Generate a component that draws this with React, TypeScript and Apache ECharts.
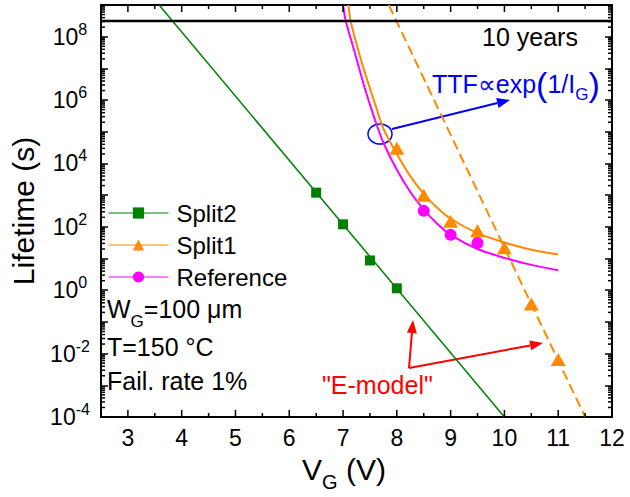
import React, { useEffect, useRef } from 'react';
import * as echarts from 'echarts';

// ---- data (lifetime in seconds vs gate voltage in V) ----
const split2V = [6.5, 7, 7.5, 8];
const split2Life = [1.2e3, 1.2e2, 8.7, 1.15];
const split1V = [8, 8.5, 9, 9.5, 10, 10.5, 11];
const split1Life = [3.0e4, 1.0e3, 1.5e2, 75, 22, 0.37, 0.0065];
const refV = [8.5, 9, 9.5];
const refLife = [320, 56, 31];

const split2FitV = [3.58, 10.0];
const split2FitLife = [1e9, 1e-4];
const eModelFitV = [7.85, 11.5];
const eModelFitLife = [1e9, 1e-4];
const split1FitV = [7.1, 7.14, 7.25, 7.4, 7.6, 7.75, 8.0, 8.25, 8.5, 8.75, 9.0, 9.5, 10, 10.5, 11];
const split1FitLife = [1e9, 3.2e8, 6e7, 7.9e6, 7.1e5, 1.26e5, 2.0e4, 4.0e3, 1.1e3, 4.0e2, 1.8e2, 63, 32, 19, 13.5];
const refFitV = [7.0, 7.05, 7.2, 7.4, 7.6, 7.75, 8.0, 8.25, 8.5, 8.75, 9.0, 9.5, 10, 10.5, 11];
const refFitLife = [1e9, 3.2e8, 4e7, 2.5e6, 2.2e5, 4.5e4, 6.3e3, 1.26e3, 3.5e2, 1.26e2, 56, 20, 10.5, 6.3, 4.3];
const tenYearsLife = 3.15e8;

const xMin = 2.5;
const xMax = 12;
const yExpMin = -4;
const yExpMax = 9;

const GREEN = '#008000';
const ORANGE = '#ff8a00';
const PINK = '#ff00ff';
const FONT = '"Liberation Sans", Arial, Helvetica, sans-serif';

const toPts = (xs: number[], ys: number[]) => xs.map((x, i) => [x, Math.log10(ys[i])]);

// tick positions (axis decoration)
const tickData: number[][] = [];
for (let v = xMin + 0.5; v < xMax; v += 0.5) tickData.push([v, 0, Number.isInteger(v) ? 0 : 1]);
for (let d = yExpMin; d < yExpMax; d++) {
  for (let k = 2; k <= 9; k++) tickData.push([xMin, d + Math.log10(k), 2]);
}

function buildOption(): any {
  return {
    animation: false,
    backgroundColor: '#fff',
    textStyle: { fontFamily: FONT },
    grid: { left: 97, right: 18, top: 5, bottom: 76, containLabel: false },
    legend: {
      orient: 'vertical',
      left: 103,
      top: 196,
      itemWidth: 60,
      itemHeight: 14,
      itemGap: 8,
      textStyle: { fontSize: 24, fontFamily: FONT, color: '#000', padding: [0, 0, 0, 3] },
      data: [
        { name: 'Split2', lineStyle: { opacity: 1, width: 1, color: GREEN } },
        { name: 'Split1', lineStyle: { opacity: 1, width: 1, color: ORANGE } },
        { name: 'Reference', lineStyle: { opacity: 1, width: 1, color: PINK } },
      ],
    },
    xAxis: [
      {
        type: 'value',
        position: 'bottom',
        min: xMin,
        max: xMax,
        interval: 0.5,
        name: '{v|V}{g|G}{v| (V)}',
        nameLocation: 'middle',
        nameGap: 30,
        nameTextStyle: {
          color: '#000',
          padding: [0, 25, 0, 0],
          rich: {
            v: { fontSize: 30, fontFamily: FONT, color: '#000' },
            g: { fontSize: 20, fontFamily: FONT, color: '#000', verticalAlign: 'bottom', padding: [25, 0, 0, 0] },
          },
        },
        axisLine: { show: true, onZero: false, lineStyle: { color: '#000', width: 2 } },
        axisTick: { show: false },
        splitLine: { show: false },
        axisLabel: {
          fontSize: 23,
          fontFamily: FONT,
          color: '#000',
          margin: 9,
          formatter: (v: number) => (Number.isInteger(v) && v > xMin ? String(v) : ''),
        },
      },
      {
        type: 'value',
        position: 'top',
        min: xMin,
        max: xMax,
        interval: 0.5,
        axisLine: { show: true, onZero: false, lineStyle: { color: '#000', width: 2 } },
        axisTick: { show: false },
        axisLabel: { show: false },
        splitLine: { show: false },
      },
    ],
    yAxis: [
      {
        type: 'value',
        position: 'left',
        min: yExpMin,
        max: yExpMax,
        interval: 1,
        name: 'Lifetime (s)',
        nameLocation: 'middle',
        nameGap: 63,
        nameTextStyle: { fontSize: 30, fontFamily: FONT, color: '#000' },
        axisLine: { show: true, onZero: false, lineStyle: { color: '#000', width: 2 } },
        axisTick: { show: true, inside: true, length: 7, lineStyle: { color: '#000', width: 1.5 } },
        splitLine: { show: false },
        axisLabel: {
          align: 'center',
          margin: 31,
          color: '#000',
          formatter: (v: number) => {
            const e = Math.round(v);
            return e % 2 === 0 && e < yExpMax ? `{b|10}{e|${e}}` : '';
          },
          rich: {
            b: { fontSize: 23, fontFamily: FONT, color: '#000' },
            e: { fontSize: 16, fontFamily: FONT, color: '#000', verticalAlign: 'top', padding: [0, 0, 15, 0] },
          },
        },
      },
      {
        type: 'value',
        position: 'right',
        min: yExpMin,
        max: yExpMax,
        interval: 1,
        axisLine: { show: true, onZero: false, lineStyle: { color: '#000', width: 2 } },
        axisTick: { show: true, inside: true, length: 7, lineStyle: { color: '#000', width: 1.5 } },
        axisLabel: { show: false },
        splitLine: { show: false },
      },
    ],
    series: [
      {
        name: 'Split2 fit',
        type: 'line',
        data: toPts(split2FitV, split2FitLife),
        showSymbol: false,
        symbol: 'none',
        lineStyle: { color: GREEN, width: 1.5 },
        silent: true,
        z: 2,
      },
      {
        name: 'E-model fit',
        type: 'line',
        data: toPts(eModelFitV, eModelFitLife),
        showSymbol: false,
        symbol: 'none',
        lineStyle: { color: ORANGE, width: 2, type: [10, 5] },
        silent: true,
        z: 2,
      },
      {
        name: 'Split1 fit',
        type: 'line',
        data: toPts(split1FitV, split1FitLife),
        showSymbol: false,
        symbol: 'none',
        smooth: 0.3,
        lineStyle: { color: ORANGE, width: 2 },
        silent: true,
        z: 2,
      },
      {
        name: 'Reference fit',
        type: 'line',
        data: toPts(refFitV, refFitLife),
        showSymbol: false,
        symbol: 'none',
        smooth: 0.3,
        lineStyle: { color: PINK, width: 2 },
        silent: true,
        z: 2,
      },
      {
        name: '10 years',
        type: 'line',
        data: toPts([xMin, xMax], [tenYearsLife, tenYearsLife]),
        showSymbol: false,
        symbol: 'none',
        lineStyle: { color: '#000', width: 2.5 },
        silent: true,
        z: 3,
      },
      {
        name: 'Split2',
        type: 'line',
        data: toPts(split2V, split2Life),
        symbol: 'rect',
        symbolSize: 10,
        showSymbol: true,
        itemStyle: { color: GREEN },
        lineStyle: { color: GREEN, opacity: 0 },
        z: 5,
      },
      {
        name: 'Split1',
        type: 'line',
        data: toPts(split1V, split1Life),
        symbol: 'triangle',
        symbolSize: [15, 13],
        showSymbol: true,
        itemStyle: { color: ORANGE },
        lineStyle: { color: ORANGE, opacity: 0 },
        z: 5,
      },
      {
        name: 'Reference',
        type: 'line',
        data: toPts(refV, refLife),
        symbol: 'circle',
        symbolSize: 12,
        showSymbol: true,
        itemStyle: { color: PINK },
        lineStyle: { color: PINK, opacity: 0 },
        z: 5,
      },
      {
        name: 'ticks',
        type: 'custom',
        silent: true,
        clip: false,
        z: 10,
        data: tickData,
        renderItem: (params: any, api: any) => {
          const cs = params.coordSys;
          const kind = api.value(2);
          const style = { stroke: '#000', lineWidth: 1.5 };
          if (kind < 2) {
            const x = api.coord([api.value(0), 0])[0];
            const len = kind === 0 ? 7 : 4;
            const yb = cs.y + cs.height;
            const yt = cs.y;
            return {
              type: 'group',
              children: [
                { type: 'line', shape: { x1: x, y1: yb, x2: x, y2: yb - len }, style },
                { type: 'line', shape: { x1: x, y1: yt, x2: x, y2: yt + len }, style },
              ],
            };
          }
          const y = api.coord([xMin, api.value(1)])[1];
          const xl = cs.x;
          const xr = cs.x + cs.width;
          return {
            type: 'group',
            children: [
              { type: 'line', shape: { x1: xl, y1: y, x2: xl + 4, y2: y }, style },
              { type: 'line', shape: { x1: xr, y1: y, x2: xr - 4, y2: y }, style },
            ],
          };
        },
      },
    ],
    graphic: [
      {
        type: 'text',
        x: 482,
        y: 36.5,
        style: { text: '10 years', fontSize: 25, fontFamily: FONT, fill: '#000', verticalAlign: 'middle', textVerticalAlign: 'middle' },
      },
      {
        type: 'text',
        x: 432,
        y: 83.5,
        style: {
          text: '{a|TTF}{p|∝}{a|exp}{b|(}{a|1/I}{s|G}{b|)}',
          fill: '#0000ff',
          verticalAlign: 'middle',
          textVerticalAlign: 'middle',
          rich: {
            a: { fontSize: 25, fontFamily: FONT, fill: '#0000ff' },
            p: { fontSize: 25, fontFamily: FONT, fill: '#0000ff' },
            b: { fontSize: 34, fontFamily: FONT, fill: '#0000ff' },
            s: { fontSize: 17, fontFamily: FONT, fill: '#0000ff', verticalAlign: 'bottom', padding: [21, 0, 0, 0] },
          },
        },
      },
      {
        type: 'ellipse',
        shape: { cx: 380, cy: 134, rx: 12, ry: 10 },
        style: { fill: 'none', stroke: '#0000ff', lineWidth: 1.5 },
      },
      {
        type: 'line',
        shape: { x1: 392, y1: 129, x2: 497.4, y2: 103 },
        style: { stroke: '#0000ff', lineWidth: 2 },
      },
      {
        type: 'polygon',
        shape: { points: [[510, 100], [498.5, 107.9], [496.2, 98.1]] },
        style: { fill: '#0000ff' },
      },
      {
        type: 'text',
        x: 322,
        y: 385,
        style: { text: '"E-model"', fontSize: 25, fontFamily: FONT, fill: '#ff0000', verticalAlign: 'middle', textVerticalAlign: 'middle' },
      },
      {
        type: 'line',
        shape: { x1: 409, y1: 368, x2: 411.9, y2: 333 },
        style: { stroke: '#ff0000', lineWidth: 2 },
      },
      {
        type: 'polygon',
        shape: { points: [[413, 320], [416.9, 333.4], [406.9, 332.6]] },
        style: { fill: '#ff0000' },
      },
      {
        type: 'line',
        shape: { x1: 409, y1: 368, x2: 530.2, y2: 345.4 },
        style: { stroke: '#ff0000', lineWidth: 2 },
      },
      {
        type: 'polygon',
        shape: { points: [[543, 343], [531.1, 350.3], [529.3, 340.5]] },
        style: { fill: '#ff0000' },
      },
      {
        type: 'text',
        x: 107,
        y: 308.5,
        style: {
          text: '{n|W}{s|G}{n|=100 μm}',
          fill: '#000',
          verticalAlign: 'middle',
          textVerticalAlign: 'middle',
          rich: {
            n: { fontSize: 25, fontFamily: FONT, fill: '#000' },
            s: { fontSize: 17, fontFamily: FONT, fill: '#000', verticalAlign: 'bottom', padding: [25, 0, 0, 0] },
          },
        },
      },
      {
        type: 'text',
        x: 107,
        y: 347,
        style: { text: 'T=150 °C', fontSize: 25, fontFamily: FONT, fill: '#000', verticalAlign: 'middle', textVerticalAlign: 'middle' },
      },
      {
        type: 'text',
        x: 107,
        y: 381,
        style: { text: 'Fail. rate 1%', fontSize: 25, fontFamily: FONT, fill: '#000', verticalAlign: 'middle', textVerticalAlign: 'middle' },
      },
    ],
  };
}

export default function App() {
  const ref = useRef<HTMLDivElement>(null);
  useEffect(() => {
    if (!ref.current) return;
    const chart = echarts.init(ref.current, null, { renderer: 'svg' });
    chart.setOption(buildOption());
    return () => chart.dispose();
  }, []);
  return (
    <div
      ref={ref}
      style={{ position: 'fixed', left: 0, top: 0, width: 630, height: 497, background: '#fff' }}
    />
  );
}
